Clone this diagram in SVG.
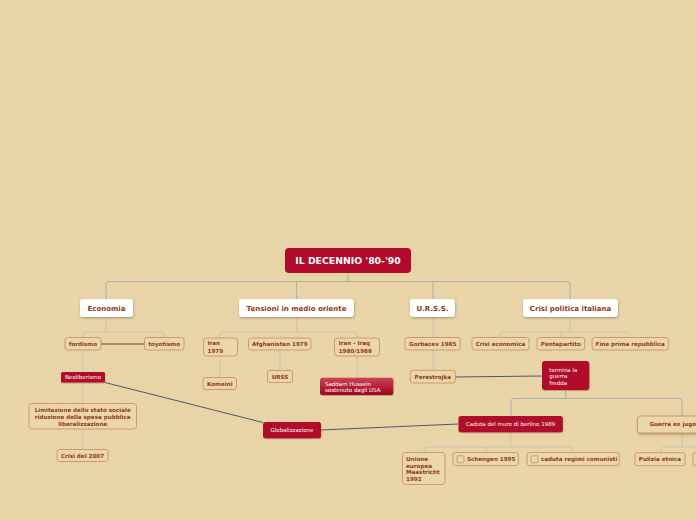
<svg xmlns="http://www.w3.org/2000/svg" width="696" height="520" viewBox="0 0 696 520">
<defs>
<style>
.bg{fill:#E9D4A8}
.w{fill:#FFFFFF;filter:url(#sh)}
.r{fill:#B10A2B;filter:url(#sh2)}
.l{fill:#EBD6AA;stroke:#CC9A6A;stroke-width:1}
.t1{font-family:"DejaVu Sans",sans-serif;font-weight:bold;font-size:7px;fill:#8E3B17;text-anchor:middle}
.t2{font-family:"DejaVu Sans",sans-serif;font-weight:bold;font-size:5.6px;fill:#8E3B17}
.c{text-anchor:middle}
.tw{font-family:"DejaVu Sans",sans-serif;font-size:5.5px;fill:#FFFFFF}
.root{font-family:"DejaVu Sans",sans-serif;font-weight:bold;font-size:9.3px;fill:#FFFFFF;text-anchor:middle}
.cg{fill:none;stroke:#A9ABAE;stroke-width:1}
.cs{fill:none;stroke:#C9C3B4;stroke-width:1}
.cd{fill:none;stroke:#4A5675;stroke-width:1}
.ct{fill:none;stroke:#A98C66;stroke-width:2}
.cb{fill:#EBD6AA;stroke:#A9896A;stroke-width:0.7}
</style>
<filter id="sh" x="-20%" y="-30%" width="140%" height="180%"><feDropShadow dx="0.5" dy="1.2" stdDeviation="0.8" flood-color="#6E5A3A" flood-opacity="0.5"/></filter>
<filter id="sh2" x="-20%" y="-30%" width="140%" height="180%"><feDropShadow dx="0.3" dy="0.8" stdDeviation="0.6" flood-color="#5A3020" flood-opacity="0.4"/></filter>
<linearGradient id="gr" x1="0" y1="0" x2="0" y2="1"><stop offset="0" stop-color="#C9415A"/><stop offset="1" stop-color="#A3061F"/></linearGradient>
</defs>
<rect class="bg" x="0" y="0" width="696" height="520"/>
<g id="connectors">
<path class="cg" d="M348,273 V281.5 M106,299 V284.5 Q106,281.5 109,281.5 H567 Q570,281.5 570,284.5 V299 M296.7,281.5 V299 M433,281.5 V299"/>
<path class="cs" d="M106,317 V332 M83,337 V335 Q83,332 86,332 H161 Q164,332 164,335 V337 M83,350 V450"/>
<path class="cs" d="M296.7,317 V332 M220,338 V335 Q220,332 223,332 H354 Q357,332 357,335 V338 M280,332 V338 M220,356 V377 M280,350 V370 M357,356 V378"/>
<path class="cs" d="M433,317 V337 M433,350 V370"/>
<path class="cs" d="M570,317 V332 M500,337 V335 Q500,332 503,332 H627 Q630,332 630,335 V337 M561,332 V337"/>
<path class="cg" d="M565.7,390 V398.5 M511,416 V401.5 Q511,398.5 514,398.5 H679 Q682,398.5 682,401.5 V416"/>
<path class="cs" d="M511,432 V447 M424,452 V450 Q424,447 427,447 H570 Q573,447 573,450 V452 M486,447 V452"/>
<path class="cs" d="M682,433 V447 M661,452 V450 Q661,447 664,447 H700"/>
<path class="ct" d="M101,344 H144"/>
<path class="cd" d="M105,382.5 L263,422.5 M321,430 L458,424 M455,377 L542,376"/>
</g>
<g id="root"><rect x="285" y="248" width="126" height="25" rx="4" fill="#B10A2B"/><text class="root" x="348" y="264.3">IL DECENNIO '80-'90</text></g>
<g id="economia"><rect class="w" x="80" y="299" width="53" height="18" rx="3"/><text class="t1" x="106.5" y="310.5">Economia</text></g>
<g id="tensioni"><rect class="w" x="239" y="299" width="115" height="18" rx="3"/><text class="t1" x="296.5" y="310.5">Tensioni in medio oriente</text></g>
<g id="urss"><rect class="w" x="410" y="299" width="45" height="18" rx="3"/><text class="t1" x="432.5" y="310.5">U.R.S.S.</text></g>
<g id="crisi"><rect class="w" x="523" y="299" width="95" height="18" rx="3"/><text class="t1" x="570.5" y="310.5">Crisi politica italiana</text></g>
<g id="fordismo"><rect class="l" x="65" y="337.5" width="36" height="12.5" rx="2.5"/><text class="t2 c" x="83" y="345.8">fordismo</text></g>
<g id="toyotismo"><rect class="l" x="144.5" y="337.5" width="39.5" height="12.5" rx="2.5"/><text class="t2 c" x="164.2" y="345.8">toyotismo</text></g>
<g id="neoliberismo"><rect class="r" x="61" y="372" width="44" height="10.5" rx="1.5"/><text class="tw c" x="83" y="379.2">Neoliberismo</text></g>
<g id="limitazione"><rect class="l" x="29" y="403.5" width="107.5" height="25.5" rx="3"/><text class="t2 c" x="82.7" y="412">Limitazione dello stato sociale</text><text class="t2 c" x="82.7" y="419">riduzione della spesa pubblica</text><text class="t2 c" x="82.7" y="425.5">liberalizzazione</text></g>
<g id="crisi2007"><rect class="l" x="57" y="449.5" width="51" height="12" rx="2.5"/><text class="t2 c" x="82.5" y="457.5">Crisi del 2007</text></g>
<g id="iran1979"><rect class="l" x="203.5" y="338" width="34" height="18" rx="3"/><text class="t2" x="207.5" y="344.8">Iran</text><text class="t2" x="207.5" y="353">1979</text></g>
<g id="afghanistan"><rect class="l" x="248.5" y="338" width="62.5" height="12" rx="2.5"/><text class="t2 c" x="279.8" y="346">Afghanistan 1979</text></g>
<g id="iraniraq"><rect class="l" x="334.5" y="338" width="45" height="18" rx="3"/><text class="t2" x="338.7" y="344.8">Iran - Iraq</text><text class="t2" x="338.7" y="353">1980/1988</text></g>
<g id="komeini"><rect class="l" x="203" y="377.5" width="33.5" height="12" rx="2.5"/><text class="t2 c" x="219.8" y="385.5">Komeini</text></g>
<g id="urss2"><rect class="l" x="267.5" y="370.5" width="25" height="12" rx="2.5"/><text class="t2 c" x="280" y="378.5">URSS</text></g>
<g id="saddam"><rect x="320" y="377.7" width="73.3" height="17.3" rx="2.5" fill="url(#gr)" filter="url(#sh2)"/><text class="tw" x="325" y="386.3">Saddam Hussein</text><text class="tw" x="325" y="392">sostenuto dagli USA</text></g>
<g id="gorbacev"><rect class="l" x="405" y="337.5" width="55.3" height="12.5" rx="2.5"/><text class="t2 c" x="432.7" y="345.8">Gorbacev 1985</text></g>
<g id="perestrojka"><rect class="l" x="410.3" y="370.3" width="45" height="12.7" rx="2.5"/><text class="t2 c" x="432.8" y="378.6">Perestrojka</text></g>
<g id="crisieconomica"><rect class="l" x="472" y="337.5" width="57" height="12.5" rx="2.5"/><text class="t2 c" x="500.5" y="345.8">Crisi economica</text></g>
<g id="pentapartito"><rect class="l" x="537" y="337.5" width="47.7" height="12.5" rx="2.5"/><text class="t2 c" x="560.8" y="345.8">Pentapartito</text></g>
<g id="fineprima"><rect class="l" x="592" y="337.5" width="76.3" height="12.5" rx="2.5"/><text class="t2 c" x="630.2" y="345.8">Fine prima repubblica</text></g>
<g id="termina"><rect class="r" x="542" y="361" width="47.3" height="29" rx="3"/><text class="tw" x="549.3" y="372">termina la</text><text class="tw" x="549.3" y="378.2">guerra</text><text class="tw" x="549.3" y="384.5">fredda</text></g>
<g id="globalizzazione"><rect class="r" x="263" y="422" width="58" height="16.3" rx="2.5"/><text class="tw c" x="292" y="432">Globalizzazione</text></g>
<g id="caduta"><rect class="r" x="458.5" y="416" width="104.3" height="16.3" rx="2.5"/><text class="tw c" x="510.6" y="426">Caduta del muro di berlino 1989</text></g>
<g id="guerra"><rect class="l" x="637.5" y="416" width="90" height="17" rx="3" filter="url(#sh)"/><text class="t2 c" x="682" y="426.4">Guerra ex jugoslavia</text></g>
<g id="unione"><rect class="l" x="402.5" y="452.5" width="42.5" height="32" rx="3"/><text class="t2" x="406" y="461">Unione</text><text class="t2" x="406" y="467.8">europea</text><text class="t2" x="406" y="474.3">Maastricht</text><text class="t2" x="406" y="481.3">1992</text></g>
<g id="schengen"><rect class="l" x="453" y="452.5" width="65.3" height="13" rx="2.5"/><rect class="cb" x="457" y="455.8" width="7" height="7" rx="1"/><text class="t2" x="467" y="461">Schengen 1995</text></g>
<g id="caduta_regimi"><rect class="l" x="527" y="452.5" width="92.3" height="13" rx="2.5"/><rect class="cb" x="531" y="455.8" width="7" height="7" rx="1"/><text class="t2" x="541" y="461">caduta regimi comunisti</text></g>
<g id="pulizia"><rect class="l" x="635" y="452.7" width="50" height="13" rx="2.5"/><text class="t2 c" x="660" y="461">Pulizia etnica</text></g>
<g id="clipped"><rect class="l" x="693" y="452.7" width="40" height="13" rx="2.5"/></g>
</svg>
